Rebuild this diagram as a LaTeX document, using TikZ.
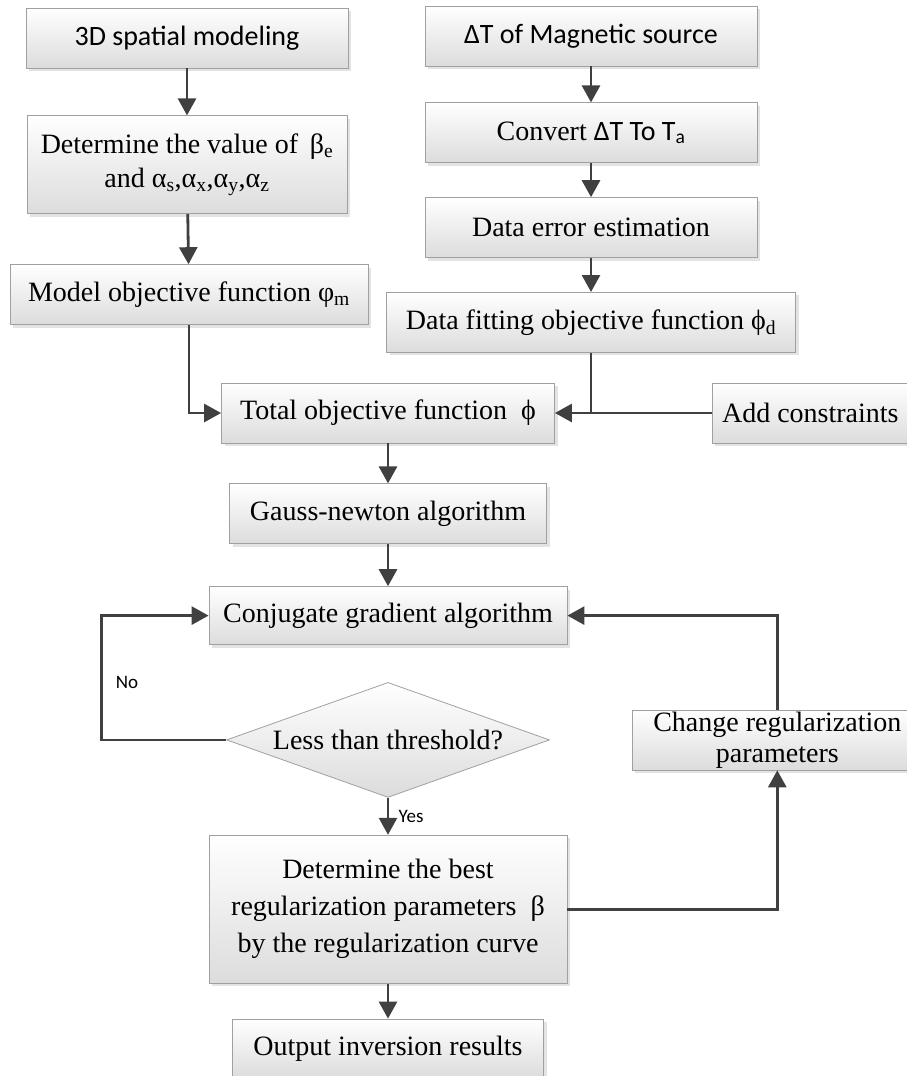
\documentclass[tikz,border=0pt]{standalone}
\usepackage{fontspec}
\setmainfont{Liberation Serif}
\newfontfamily\calibrifont{Carlito}
\usetikzlibrary{shapes.geometric, arrows.meta, positioning, shadows}
\definecolor{ArrowGray}{HTML}{404040}
\definecolor{BoxEdge}{HTML}{A0A0A0}
\definecolor{BoxFill}{HTML}{DCDCDC}

\begin{document}
\begin{tikzpicture}[
        x=1pt, y=1pt,
        % Boxes for the process steps
        procbox/.style={
                rectangle,
                minimum height=60pt,
                inner sep=2pt,
                align=center,
                font=\fontsize{28}{34}\selectfont,
                draw=BoxEdge,
                line width=0.8pt,
                top color=white,
                bottom color=BoxFill,
                drop shadow={shadow xshift=3pt, shadow yshift=-3pt, fill=black!22}
            },
        % Decision
        decisionbox/.style={
                diamond,
                aspect=2.8,
                inner xsep=0pt,
                inner ysep=5pt,
                minimum width=323pt,
                minimum height=115pt,
                font=\fontsize{28}{34}\selectfont,
                draw=BoxEdge,
                line width=0.8pt,
                top color=white,
                bottom color=BoxFill
            },
        % Arrows
        arrow/.style={
                -{Triangle[length=17pt,width=18pt]},
                line width=2.8pt,
            color=ArrowGray
            },
        joinline/.style={
                line width=2.8pt,
            color=ArrowGray
            },
        branchlabel/.style={
                font=\calibrifont\fontsize{19}{22}\selectfont,
                text=black
            }
    ]
    \useasboundingbox (0,0) rectangle (907,-1076);

    % Left column
    \node[procbox, minimum width=322pt, font=\calibrifont\fontsize{28}{34}\selectfont] (spatial) at (187,-38) {3D spatial modeling};
    \node[procbox, minimum width=320pt, minimum height=98pt, below=47pt of spatial] (coeffs) {
        Determine the value of \,β\textsubscript{e}\\
        and α\textsubscript{s},α\textsubscript{x},α\textsubscript{y},α\textsubscript{z}
    };
    \node[procbox, minimum width=358pt, below=50pt of coeffs, xshift=2pt] (modelobj) {Model objective function φ\textsubscript{m}};

    % Right column
    \node[procbox, minimum width=332pt, font=\calibrifont\fontsize{28}{34}\selectfont] (source) at (591,-36) {ΔT of Magnetic source};
    \node[procbox, minimum width=332pt, below=36pt of source] (convert) {Convert {\calibrifont ΔT To T\textsubscript{a}}};
    \node[procbox, minimum width=332pt, below=34pt of convert] (errest) {Data error estimation};
    \node[procbox, minimum width=409pt, below=34pt of errest] (datafit) {Data fitting objective function ϕ\textsubscript{d}};

    % Main chain
    \node[procbox, minimum width=333pt] (total) at (388,-413) {Total objective function \ ϕ};
    \node[procbox, minimum width=196pt, right=157pt of total] (constr) {Add constraints};
    \node[procbox, minimum width=317pt, below=40pt of total] (gauss) {Gauss-newton algorithm};
    \node[procbox, minimum width=358pt, minimum height=58pt, below=42pt of gauss] (conjgrad) {Conjugate gradient algorithm};
    \node[decisionbox, below=37pt of conjgrad] (threshold) {Less than threshold?};
    \node[procbox, minimum width=290pt, inner ysep=0pt, right=82pt of threshold, font=\fontsize{28}{31}\selectfont] (changereg) {
        Change regularization\\
        parameters
    };
    \node[procbox, minimum width=358pt, minimum height=148pt, below=37pt of threshold, font=\fontsize{28}{37}\selectfont] (bestbeta) {
        Determine the best\\
        regularization parameters \ β\\
        by the regularization curve
    };
    \node[procbox, minimum width=311pt, minimum height=59pt, below=35pt of bestbeta] (output) {Output inversion results};

    % Arrows
    \draw[arrow] (spatial) -- (coeffs);
    \draw[arrow] (coeffs) -- (modelobj);
    \draw[arrow] (source) -- (convert);
    \draw[arrow] (convert) -- (errest);
    \draw[arrow] (errest) -- (datafit);
    \draw[arrow] (modelobj.south) |- (total.west);
    \draw[arrow] (constr) -- (total);
    \draw[joinline] (datafit.south) -- (datafit.south |- total.east);
    \draw[arrow] (total) -- (gauss);
    \draw[arrow] (gauss) -- (conjgrad);
    \draw[arrow] (threshold.west) -- ++(-125,0) |- (conjgrad.west)
        node[branchlabel, pos=0.23, right=10pt] {No};
    \draw[arrow] (threshold) -- (bestbeta)
        node[branchlabel, midway, right=6pt] {Yes};
    \draw[arrow] (bestbeta.east) -| (changereg.south);
    \draw[arrow] (changereg.north) |- (conjgrad.east);
    \draw[arrow] (bestbeta) -- (output);

\end{tikzpicture}
\end{document}
